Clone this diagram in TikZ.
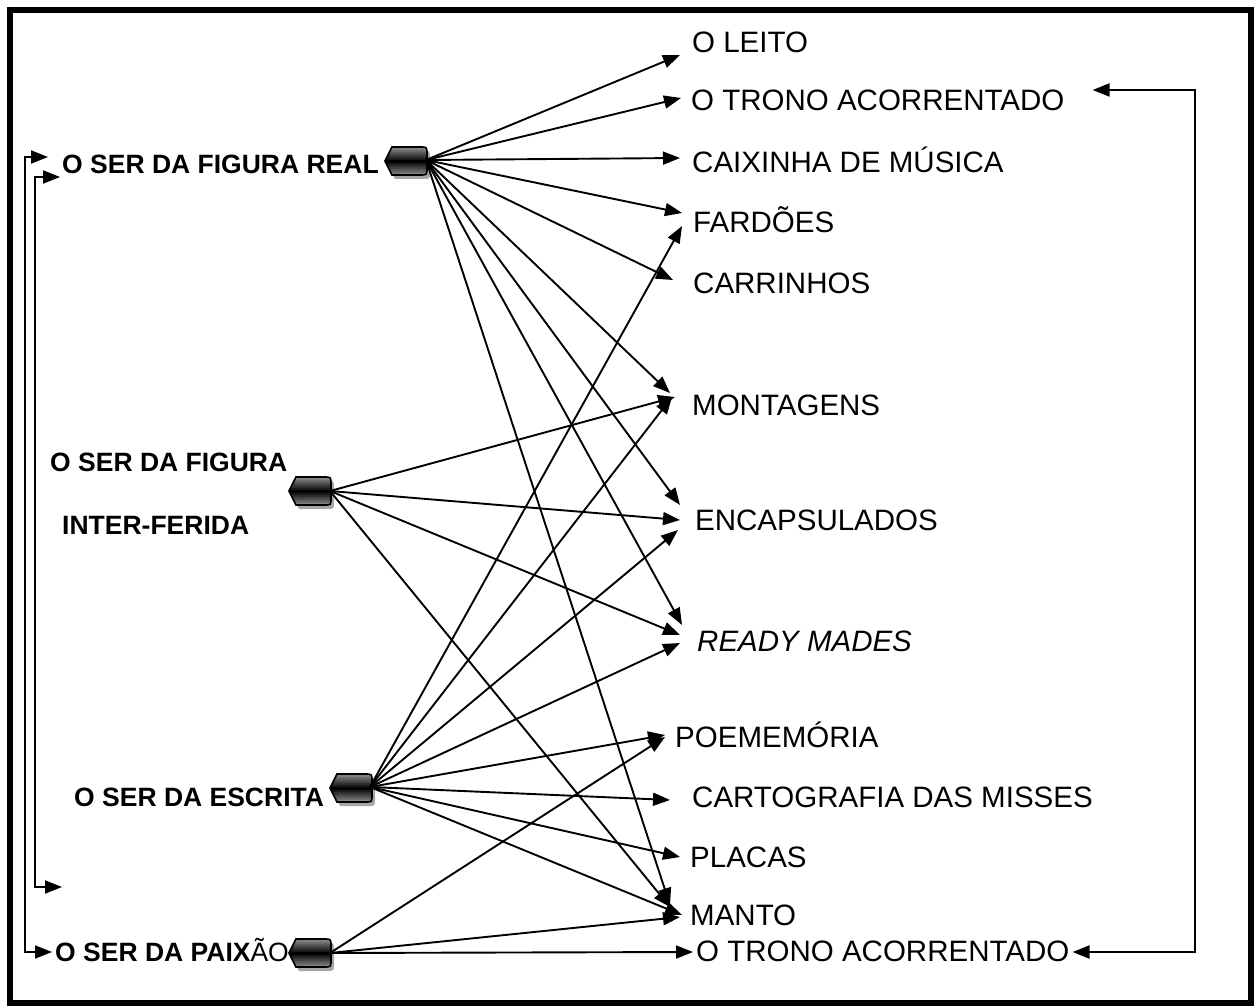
\documentclass[tikz,border=0pt]{standalone}
\usepackage{fontspec}
\setmainfont{Liberation Sans}
\usetikzlibrary{arrows.meta,calc}
\begin{document}
\begin{tikzpicture}[x=1pt,y=-1pt,
  tip/.tip={Triangle[length=17pt,width=13pt]},
  conn/.style={line width=1.9pt,-tip},
  brk/.style={line width=1.9pt},
  lbl/.style={anchor=west,inner sep=0pt,text height=19pt,text depth=0pt,font=\fontsize{26.5}{30}\selectfont\bfseries},
  item/.style={anchor=west,inner sep=0pt,text height=21pt,text depth=0pt,font=\fontsize{29.5}{34}\selectfont},
  hub/.pic={
    \fill[black!35,shift={(3,4)}] (-21,0) -- (-14,-14) -- (14,-14) .. controls (21,-14) .. (21,-7) -- (21,7) .. controls (21,14) .. (14,14) -- (-14,14) -- cycle;
    \begin{scope}
      \clip (-21,0) -- (-14,-14) -- (14,-14) .. controls (21,-14) .. (21,-7) -- (21,7) .. controls (21,14) .. (14,14) -- (-14,14) -- cycle;
      \fill[black!50] (-22,-15) rectangle (22,15);
      \fill[black!58] (-22,-11) rectangle (22,12);
      \fill[black!66] (-22,-9) rectangle (22,10);
      \fill[black!74] (-22,-7) rectangle (22,8);
      \fill[black!82] (-22,-5) rectangle (22,6);
      \fill[black!90] (-22,-3) rectangle (22,4);
      \fill[black] (-22,-1) rectangle (22,2);
    \end{scope}
    \draw[black,line width=1.6pt]
      (-21,0) -- (-14,-14) -- (14,-14) .. controls (21,-14) .. (21,-7) -- (21,7) .. controls (21,14) .. (14,14) -- (-14,14) -- cycle;
  }]
\useasboundingbox (0,0) rectangle (1256,1008);
\fill[white] (0,0) rectangle (1256,1008);
\draw[line width=6.5pt] (10,10) rectangle (1251,1003);

% left labels
\node[lbl] (real) at (62,164) {O SER DA FIGURA REAL};
\node[lbl] (inter1) at (50,462) {O SER DA FIGURA};
\node[lbl] (inter2) at (62,525) {INTER-FERIDA};
\node[lbl] (escrita) at (74,797) {O SER DA ESCRITA};
\node[lbl] (paixao) at (55,952) {O SER DA PAIX{\mdseries ÃO}};

% hubs
\pic at (406,161) {hub};
\pic at (310,491) {hub};
\pic at (351,788) {hub};
\pic at (310,953) {hub};
\coordinate (h1) at (426,160);
\coordinate (h2) at (330,491);
\coordinate (h3) at (370,787);
\coordinate (h4) at (330,953);

% right labels
\node[item] (leito) at (692,42) {O LEITO};
\node[item] (trono) at (691,100) {O TRONO ACORRENTADO};
\node[item] (caixinha) at (692,162) {CAIXINHA DE MÚSICA};
\node[item] (fardoes) at (693,222) {FARDÕES};
\node[item] (carrinhos) at (693,283) {CARRINHOS};
\node[item] (montagens) at (692,405) {MONTAGENS};
\node[item] (encaps) at (695,520) {ENCAPSULADOS};
\node[item] (ready) at (697,641) {\itshape READY MADES};
\node[item] (poem) at (675,737) {POEMEMÓRIA};
\node[item] (carto) at (692,797) {CARTOGRAFIA DAS MISSES};
\node[item] (placas) at (690,857) {PLACAS};
\node[item] (manto) at (690,915) {MANTO};
\node[item] (trono2) at (696,951) {O TRONO ACORRENTADO};

% connectors from O SER DA FIGURA REAL
\draw[conn] (h1) -- ($(leito.west)+(-12,13)$);
\draw[conn] (h1) -- ($(trono.west)+(-10,-2)$);
\draw[conn] (h1) -- ($(caixinha.west)+(-12,-4)$);
\draw[conn] (h1) -- ($(fardoes.west)+(-11,-9)$);
\draw[conn] (h1) -- ($(carrinhos.west)+(-20,-3)$);
\draw[conn] (h1) -- ($(montagens.west)+(-22,-12)$);
\draw[conn] (h1) -- ($(encaps.west)+(-15,-15)$);
\draw[conn] (h1) -- ($(ready.west)+(-15,-16)$);
\draw[conn] (h1) -- ($(manto.west)+(-20,-10)$);
% from INTER-FERIDA
\draw[conn] (h2) -- ($(montagens.west)+(-17,-8)$);
\draw[conn] (h2) -- ($(encaps.west)+(-15,0)$);
\draw[conn] (h2) -- ($(ready.west)+(-17,-6)$);
\draw[conn] (h2) -- ($(manto.west)+(-20,-8)$);
% from ESCRITA
\draw[conn] (h3) -- ($(fardoes.west)+(-11,4)$);
\draw[conn] (h3) -- ($(montagens.west)+(-20,-8)$);
\draw[conn] (h3) -- ($(encaps.west)+(-17,10)$);
\draw[conn] (h3) -- ($(ready.west)+(-17,2)$);
\draw[conn] (h3) -- ($(poem.west)+(-10,-2)$);
\draw[conn] (h3) -- ($(carto.west)+(-22,3)$);
\draw[conn] (h3) -- ($(placas.west)+(-10,0)$);
\draw[conn] (h3) -- ($(manto.west)+(-8,0)$);
% from PAIXAO
\draw[conn] (h4) -- ($(poem.west)+(-10,0)$);
\draw[conn] (h4) -- ($(manto.west)+(-10,2)$);
\draw[conn] (h4) -- ($(trono2.west)+(-3,1)$);

% brackets
\coordinate (rb) at (1195,90);
\draw[brk,tip-tip] ($(trono2.east)+(3,1)$) -| (rb) -- ($(trono.east)+(28,-10)$);
\coordinate (lb1) at (25,157);
\draw[brk,tip-tip] ($(paixao.west)+(-3,0)$) -| (lb1) -- ($(real.west)+(-14,-7)$);
\coordinate (lb2) at (35,177);
\coordinate (free) at (62,887);
\draw[brk,tip-tip] (free) -| (lb2) -- ($(real.west)+(-2,13)$);
\end{tikzpicture}
\end{document}
